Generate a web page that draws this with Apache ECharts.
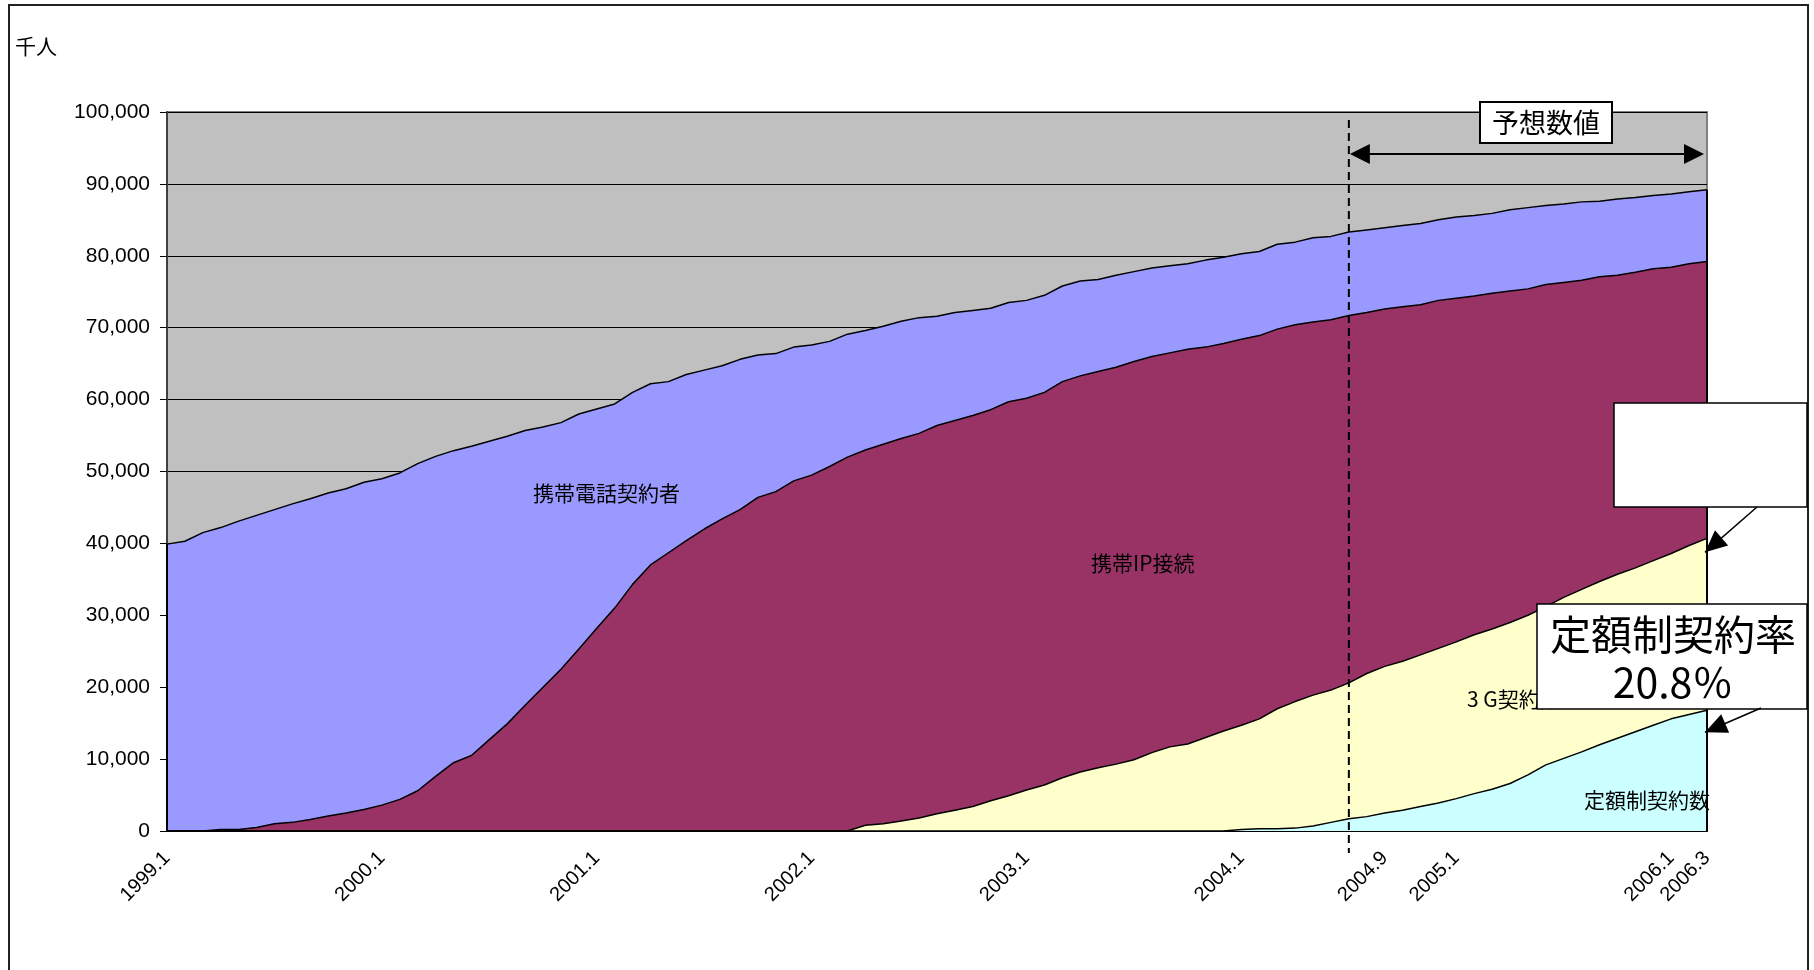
<!DOCTYPE html>
<html>
<head>
<meta charset="utf-8">
<script src="https://cdn.jsdelivr.net/npm/echarts@6/dist/echarts.min.js"></script>
<style>
html, body { margin: 0; padding: 0; background: #fff; }
#chart { width: 1814px; height: 970px; }
</style>
</head>
<body>
<div id="chart"></div>
<script>
// 月次データ (千人)
var months = [
  '1999.1','1999.2','1999.3','1999.4','1999.5','1999.6','1999.7','1999.8','1999.9','1999.10','1999.11','1999.12',
  '2000.1','2000.2','2000.3','2000.4','2000.5','2000.6','2000.7','2000.8','2000.9','2000.10','2000.11','2000.12',
  '2001.1','2001.2','2001.3','2001.4','2001.5','2001.6','2001.7','2001.8','2001.9','2001.10','2001.11','2001.12',
  '2002.1','2002.2','2002.3','2002.4','2002.5','2002.6','2002.7','2002.8','2002.9','2002.10','2002.11','2002.12',
  '2003.1','2003.2','2003.3','2003.4','2003.5','2003.6','2003.7','2003.8','2003.9','2003.10','2003.11','2003.12',
  '2004.1','2004.2','2004.3','2004.4','2004.5','2004.6','2004.7','2004.8','2004.9','2004.10','2004.11','2004.12',
  '2005.1','2005.2','2005.3','2005.4','2005.5','2005.6','2005.7','2005.8','2005.9','2005.10','2005.11','2005.12',
  '2006.1','2006.2','2006.3'
];
var shownTicks = ['1999.1','2000.1','2001.1','2002.1','2003.1','2004.1','2004.9','2005.1','2006.1','2006.3'];

// 携帯電話契約者
var mobile = [
  39900,40300,41500,42200,43100,43900,44700,45500,46200,47000,47600,48500,
  49000,49800,51100,52100,52900,53500,54200,54900,55700,56200,56800,58000,
  58700,59400,61000,62200,62500,63500,64100,64700,65600,66200,66400,67300,
  67600,68100,69100,69600,70200,70900,71400,71600,72100,72400,72700,73500,
  73800,74500,75800,76500,76700,77300,77800,78300,78600,78900,79400,79800,
  80300,80600,81600,81900,82500,82700,83300,83600,83900,84200,84500,85000,
  85400,85600,85900,86400,86700,87000,87200,87500,87600,87900,88100,88400,
  88600,88900,89200
];
// 携帯IP接続
var ipConn = [
  0,0,0,200,200,500,1000,1200,1600,2100,2500,3000,
  3600,4400,5600,7600,9500,10500,12700,14900,17500,20000,22500,25300,
  28200,31000,34300,37000,38700,40400,42000,43400,44700,46400,47200,48700,
  49500,50700,52000,53000,53800,54600,55300,56400,57100,57800,58600,59700,
  60200,61000,62500,63300,63900,64500,65300,66000,66500,67000,67300,67800,
  68400,68900,69800,70400,70800,71100,71700,72100,72600,72900,73200,73800,
  74100,74400,74800,75100,75400,76000,76300,76600,77100,77300,77700,78200,
  78400,78900,79200
];
// 3G契約数
var g3 = [
  0,0,0,0,0,0,0,0,0,0,0,0,
  0,0,0,0,0,0,0,0,0,0,0,0,
  0,0,0,0,0,0,0,0,0,0,0,0,
  0,0,0,800,1000,1400,1800,2400,2900,3400,4200,4900,
  5700,6400,7400,8200,8800,9300,9900,10900,11700,12100,13000,13900,
  14700,15600,17000,18000,18900,19600,20600,21900,22900,23600,24500,25400,
  26300,27300,28100,29000,30000,31200,32500,33600,34700,35700,36600,37600,
  38600,39700,40700
];
// 定額制契約数
var flat = [
  0,0,0,0,0,0,0,0,0,0,0,0,
  0,0,0,0,0,0,0,0,0,0,0,0,
  0,0,0,0,0,0,0,0,0,0,0,0,
  0,0,0,0,0,0,0,0,0,0,0,0,
  0,0,0,0,0,0,0,0,0,0,0,0,
  200,300,300,400,700,1200,1700,2000,2500,2900,3400,3900,
  4500,5200,5800,6600,7800,9200,10100,11000,12000,12900,13800,14700,
  15600,16200,16800
];
var forecastStart = '2004.7';

var FONT = '"Liberation Sans", "Noto Sans CJK JP", sans-serif';
var JP = '"Noto Sans CJK JP", "Liberation Sans", sans-serif';

var chart = echarts.init(document.getElementById('chart'));

function area(name, data, color) {
    return {
        name: name,
        type: 'line',
        data: data,
        showSymbol: false,
        symbol: 'none',
        silent: true,
        lineStyle: { color: '#000', width: 1.5 },
        areaStyle: { color: color, opacity: 1 }
    };
}

var s1 = area('携帯電話契約者', mobile, '#9999FF');
// 左右の縦の縁
s1.markLine = {
    silent: true,
    symbol: 'none',
    label: { show: false },
    lineStyle: { color: '#000', width: 2, type: 'solid' },
    data: [
        [{ coord: [months[0], 0] }, { coord: [months[0], mobile[0]] }],
        [{ coord: [months[months.length - 1], 0] }, { coord: [months[months.length - 1], mobile[mobile.length - 1]] }]
    ]
};

chart.setOption({
    animation: false,
    textStyle: { fontFamily: FONT },
    grid: {
        left: 167, right: 107, top: 112, bottom: 139,
        show: true,
        backgroundColor: '#C0C0C0',
        borderColor: '#808080',
        borderWidth: 2,
        outerBoundsMode: 'none'
    },
    xAxis: {
        type: 'category',
        data: months,
        boundaryGap: false,
        axisLine: { lineStyle: { color: '#000', width: 2 } },
        axisTick: { show: true, inside: true, length: 6, interval: 0, lineStyle: { color: '#000' } },
        axisLabel: {
            rotate: 45,
            margin: 24,
            fontSize: 20,
            color: '#000',
            fontFamily: FONT,
            interval: function (idx, value) { return shownTicks.indexOf(value) >= 0; }
        },
        splitLine: { show: false }
    },
    yAxis: {
        type: 'value',
        min: 0,
        max: 100000,
        interval: 10000,
        axisLine: { show: true, lineStyle: { color: '#404040', width: 2 } },
        axisTick: { show: true, length: 7, lineStyle: { color: '#000' } },
        axisLabel: {
            fontSize: 21,
            margin: 17,
            color: '#000',
            fontFamily: FONT,
            formatter: function (v) { return v.toLocaleString('en-US'); }
        },
        splitLine: { show: true, lineStyle: { color: '#000', width: 1 } }
    },
    series: [
        s1,
        area('携帯IP接続', ipConn, '#993366'),
        area('3G契約数', g3, '#FFFFCC'),
        area('定額制契約数', flat, '#CCFFFF')
    ]
});

// 注釈
function arrowHead(x1, y1, x2, y2, len, half) {
    var dx = x2 - x1, dy = y2 - y1;
    var d = Math.sqrt(dx * dx + dy * dy);
    var ux = dx / d, uy = dy / d;
    var bx = x2 - ux * len, by = y2 - uy * len;
    return [[x2, y2], [bx - uy * half, by + ux * half], [bx + uy * half, by - ux * half]];
}
function arrow(x1, y1, x2, y2, z) {
    return [
        { type: 'line', z: z, shape: { x1: x1, y1: y1, x2: x2, y2: y2 }, style: { stroke: '#000', lineWidth: 1.5 } },
        { type: 'polygon', z: z, shape: { points: arrowHead(x1, y1, x2, y2, 22, 10) }, style: { fill: '#000' } }
    ];
}
function txt(text, x, y, size, z, align) {
    return {
        type: 'text', z: z, x: x, y: y,
        style: { text: text, fontSize: size, fontFamily: JP, fill: '#000', align: align || 'left', verticalAlign: 'middle' }
    };
}

var dashX = chart.convertToPixel({ xAxisIndex: 0 }, forecastStart);
var endX = chart.convertToPixel({ xAxisIndex: 0 }, months[months.length - 1]);
var g3End = chart.convertToPixel({ gridIndex: 0 }, [months.length - 1, g3[g3.length - 1]]);
var flatEnd = chart.convertToPixel({ gridIndex: 0 }, [months.length - 1, flat[flat.length - 1]]);

var gr = [
    { type: 'rect', z: 1, shape: { x: 9, y: 5, width: 1799, height: 1000 }, style: { fill: 'none', stroke: '#222', lineWidth: 2 } },
    txt('千人', 15, 46, 21, 10),
    txt('携帯電話契約者', 533, 493, 21, 10),
    txt('携帯IP接続', 1091, 563, 21, 10),
    txt('3 G契約数', 1467, 699, 21, 10),
    txt('定額制契約数', 1584, 800, 21, 10),
    { type: 'line', z: 10, shape: { x1: dashX, y1: 120, x2: dashX, y2: 853 }, style: { stroke: '#000', lineWidth: 2, lineDash: [8, 5] } },
    { type: 'line', z: 10, shape: { x1: dashX + 18, y1: 154, x2: endX - 20, y2: 154 }, style: { stroke: '#000', lineWidth: 2 } },
    { type: 'polygon', z: 10, shape: { points: [[dashX + 1, 154], [dashX + 21, 144], [dashX + 21, 164]] }, style: { fill: '#000' } },
    { type: 'polygon', z: 10, shape: { points: [[endX - 3, 154], [endX - 23, 144], [endX - 23, 164]] }, style: { fill: '#000' } },
    { type: 'rect', z: 11, shape: { x: 1480, y: 102, width: 132, height: 41 }, style: { fill: '#fff', stroke: '#000', lineWidth: 2 } },
    txt('予想数値', 1546, 123, 27, 12, 'center'),
    { type: 'rect', z: 11, shape: { x: 1614, y: 403, width: 193, height: 104 }, style: { fill: '#fff', stroke: '#000', lineWidth: 1.5 } },
    { type: 'rect', z: 11, shape: { x: 1537, y: 604, width: 270, height: 105 }, style: { fill: '#fff', stroke: '#000', lineWidth: 1.5 } },
    txt('定額制契約率', 1673, 634, 41, 12, 'center'),
    txt('20.8％', 1673, 682, 41, 12, 'center')
];
gr = gr.concat(arrow(1757, 507, g3End[0] - 2, g3End[1] + 14, 12));
gr = gr.concat(arrow(1761, 708, flatEnd[0] - 2, flatEnd[1] + 22, 12));

chart.setOption({ graphic: gr });
</script>
</body>
</html>
